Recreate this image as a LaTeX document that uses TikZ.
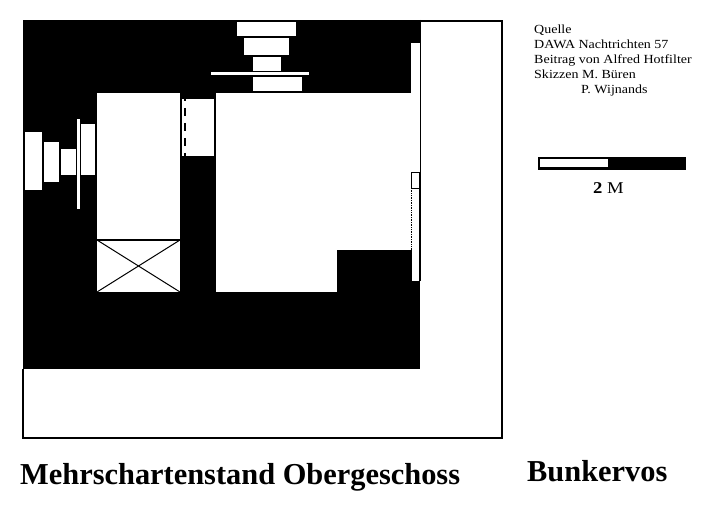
\documentclass[tikz,border=0pt]{standalone}
\usepackage{fontspec}
\usepackage{amsmath}
\setmainfont{Liberation Serif}
\newcommand{\wider}[1]{\scalebox{1.13}[1]{#1}}

\begin{document}
\begin{tikzpicture}
  [x=1pt,y=-1pt,every node/.style={inner sep=0pt,anchor=base west},
   room/.style={fill=white},wall/.style={fill=black},
   thin line/.style={draw=black,line width=1.5pt},
   source/.style={font=\fontsize{12.4}{14}\selectfont},
   title/.style={font=\fontsize{30.4}{33}\selectfont\bfseries}]

  \fill[white] (0,0) rectangle (720,508);

  % frame and concrete
  \fill[wall] (23,20) rectangle (420,369);
  \draw[thin line] (23,369) -- (23,438) -- (502,438) -- (502,21) -- (420,21);
  \draw[thin line] (420.5,20) -- (420.5,188);

  % rooms
  \foreach \xa/\ya/\xb/\yb in {97/93/180/292,216/93/411/292,411/43/419.5/281,182/99/214/156}
    \fill[room] (\xa,\ya) rectangle (\xb,\yb);
  \fill[wall] (337,250) rectangle (412,292);

  % embrasures left
  \foreach \xa/\ya/\xb/\yb in {25/132/42/190,44/142/59/182,61/149/76/175,77/119/80/209,81/124/95/175}
    \fill[room] (\xa,\ya) rectangle (\xb,\yb);

  % embrasures top
  \foreach \xa/\ya/\xb/\yb in {237/22/296/36,244/38/289/55.5,253/57/281/71,211/72/309/75,253/77/302/91}
    \fill[room] (\xa,\ya) rectangle (\xb,\yb);

  % door, window, stair
  \draw[line width=2pt,dash pattern=on 8pt off 7pt,dash phase=-9pt] (185,99) -- (185,156);
  \draw[line width=1pt] (411.5,172) rectangle (419.5,188);
  \draw[line width=0.7pt,densely dotted] (411.5,188) -- (411.5,250);
  \draw[line width=2pt] (420,188) -- (420,281);
  \draw[line width=1.5pt] (97,240) -- (180,240);
  \draw[line width=1pt] (97,240) -- (180,292);
  \draw[line width=1pt] (180,240) -- (97,292);

  % scale
  \fill[wall] (538,157) rectangle (686,169.5);
  \fill[room] (540,159) rectangle (608,167);

  \node[source] (q1) at (534,34) {\wider{Quelle}};
  \node[source] (q2) at (534,48.5) {\wider{DAWA Nachtrichten 57}};
  \node[source] (q3) at (534,64) {\wider{Beitrag von Alfred Hotfilter}};
  \node[source] (q4) at (534,79) {\wider{Skizzen M. Büren}};
  \node[source] (q5) at (581,94) {\wider{P. Wijnands}};
  \node[font=\fontsize{16.5}{18}\selectfont] (len) at (593,193.5) {\wider{\textbf{2} M}};
  \node[title] (name) at (20,484) {Mehrschartenstand Obergeschoss};
  \node[title] (site) at (527,481.5) {Bunkervos};
\end{tikzpicture}
\end{document}
